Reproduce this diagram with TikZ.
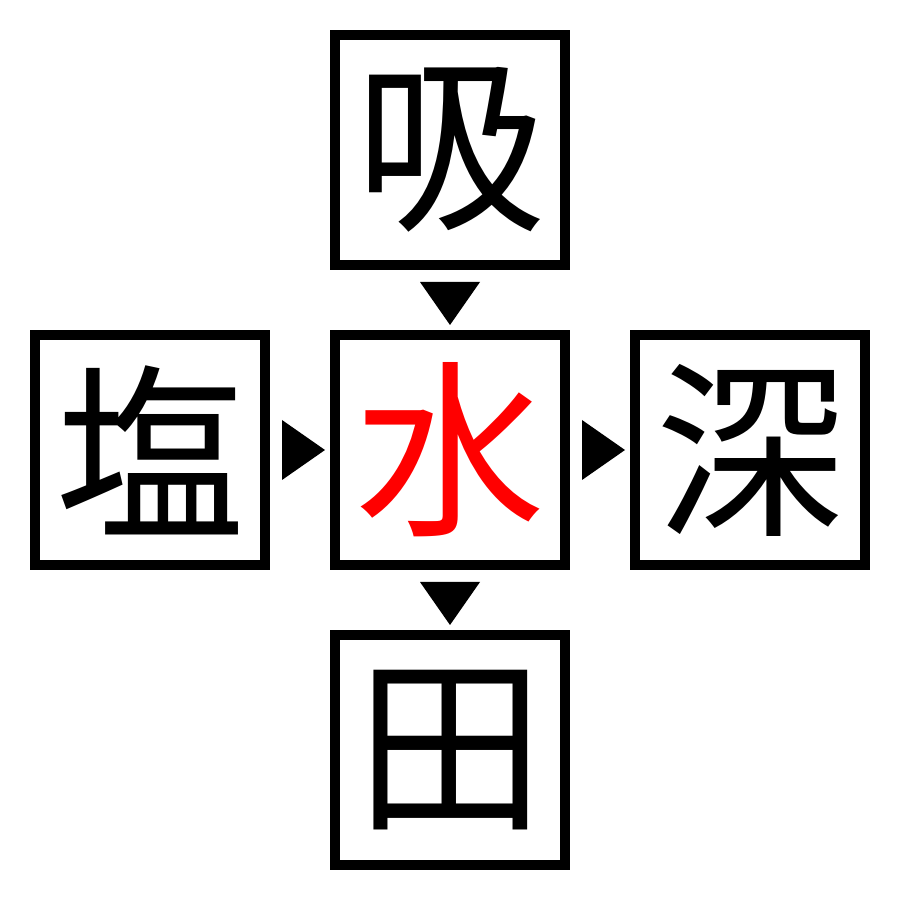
\documentclass[tikz,border=0pt]{standalone}
\usepackage{fontspec}
\newfontfamily\kanji{Noto Sans CJK JP}
\usetikzlibrary{positioning,calc}
\tikzset{
	cell/.style={draw=black,line width=0.1cm,minimum size=2.3cm,inner sep=0pt,
		font=\kanji\fontsize{54}{54}\selectfont},
	pointer/.style={fill=black}
}

\begin{document}
\begin{tikzpicture}[node distance=0.6cm]
	\useasboundingbox (0,0) rectangle (9,9);
	\node[cell,text=red] (water) at (4.5,4.5) {水};
	\node[cell,above=of water] (suck) {吸};
	\node[cell,left=of water] (salt) {塩};
	\node[cell,right=of water] (deep) {深};
	\node[cell,below=of water] (field) {田};
	% pointers between the cells
	\coordinate (p1) at ($(suck.south)!0.5!(water.north)$);
	\coordinate (p2) at ($(water.south)!0.5!(field.north)$);
	\coordinate (p3) at ($(salt.east)!0.5!(water.west)$);
	\coordinate (p4) at ($(water.east)!0.5!(deep.west)$);
	\foreach \p in {p1,p2}
		\fill[pointer] (\p) ++(-0.3,0.18) -- ++(0.6,0) -- ++(-0.3,-0.43) -- cycle;
	\foreach \p in {p3,p4}
		\fill[pointer] (\p) ++(-0.18,0.3) -- ++(0,-0.6) -- ++(0.43,0.3) -- cycle;
\end{tikzpicture}
\end{document}
